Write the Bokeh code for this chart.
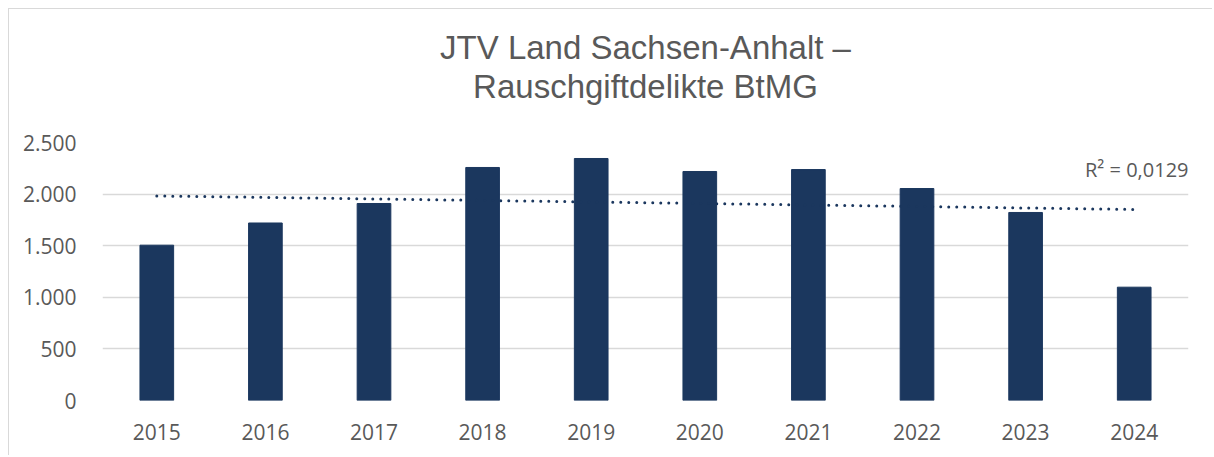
import numpy as np
from bokeh.plotting import figure
from bokeh.models import ColumnDataSource, FixedTicker, Label, Range1d, Title
from bokeh.embed import file_html
from bokeh.resources import INLINE

years = ["2015", "2016", "2017", "2018", "2019", "2020", "2021", "2022", "2023", "2024"]
cases = [1505, 1720, 1909, 2258, 2345, 2219, 2238, 2054, 1822, 1098]
y_ticks = [0, 500, 1000, 1500, 2000, 2500]
y_tick_labels = ["0", "500", "1.000", "1.500", "2.000", "2.500"]
title_line1 = "JTV Land Sachsen-Anhalt –"
title_line2 = "Rauschgiftdelikte BtMG"
r2_text = "R² = 0,0129"

BAR = "#1b375e"
GRAY_TXT = "#595959"
GRID = "#d9d9d9"

p = figure(
    x_range=years,
    y_range=Range1d(0, 2500),
    width=1204,
    height=447,
    output_backend="svg",
    toolbar_location=None,
    min_border_left=93,
    min_border_right=25,
    min_border_top=133,
    min_border_bottom=56,
)
p.styles = {"margin-left": "8px", "margin-top": "8px",
            "border-left": "1px solid #d9d9d9", "border-top": "1px solid #d9d9d9"}
p.outline_line_color = None
p.background_fill_color = "white"
p.border_fill_color = "white"
p.title = None

spacer = Title(text=" ", text_font_size="1px", standoff=35)
p.add_layout(spacer, "above")
t2 = Title(text=title_line2, align="center", text_font="Liberation Sans",
           text_font_size="33px", text_font_style="normal", text_color=GRAY_TXT,
           standoff=0)
p.add_layout(t2, "above")
t1 = Title(text=title_line1, align="center", text_font="Liberation Sans",
           text_font_size="33px", text_font_style="normal", text_color=GRAY_TXT,
           standoff=0)
p.add_layout(t1, "above")

src = ColumnDataSource(dict(year=years, cases=cases))
p.vbar(x="year", top="cases", width=0.31, source=src,
       fill_color=BAR, line_color=BAR, line_width=1)

# linear trend of the data
idx = np.arange(len(cases))
slope, intercept = np.polyfit(idx, np.array(cases, dtype=float), 1)
trend_y = [intercept, intercept + slope * idx[-1]]
p.line(x=[years[0], years[-1]], y=trend_y, line_color=BAR, line_width=3,
       line_dash="0 8", line_cap="round")

p.add_layout(Label(x=10, y=2235, x_offset=0, text=r2_text, text_align="right",
                   text_baseline="alphabetic", text_font="Open Sans",
                   text_font_size="20px", text_color=GRAY_TXT))

# axes
p.yaxis.ticker = FixedTicker(ticks=y_ticks)
p.yaxis.major_label_overrides = {t: l for t, l in zip(y_ticks, y_tick_labels)}
for ax in (p.xaxis[0], p.yaxis[0]):
    ax.axis_line_color = None
    ax.major_tick_line_color = None
    ax.minor_tick_line_color = None
    ax.major_label_text_font = "Open Sans"
    ax.major_label_text_font_size = "21px"
    ax.major_label_text_color = GRAY_TXT
p.yaxis.major_label_standoff = 20
p.xaxis.major_label_standoff = 17

p.xgrid.grid_line_color = None
p.ygrid.grid_line_color = GRID
p.ygrid.grid_line_width = 1.5
p.x_range.range_padding = 0

open("out.html", "w").write(file_html(p, INLINE))
